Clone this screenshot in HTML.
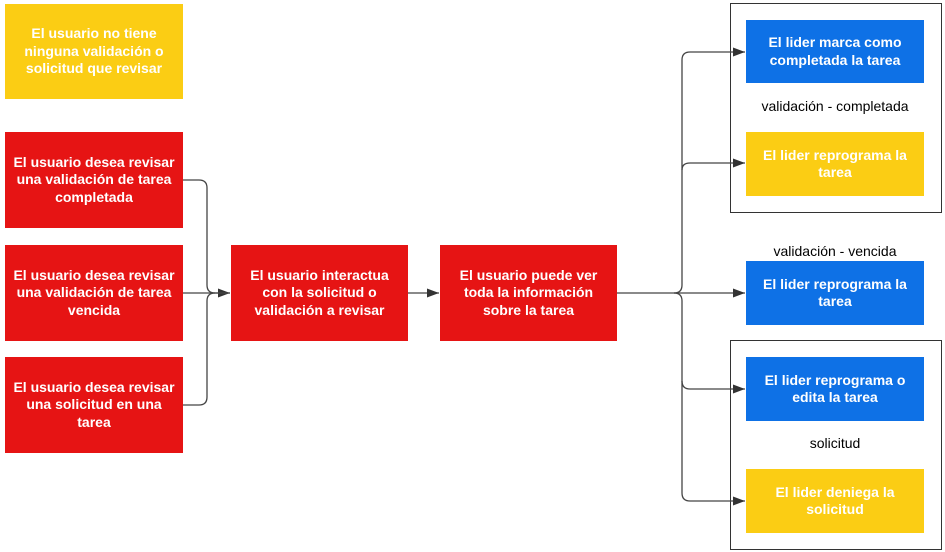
<!DOCTYPE html>
<html><head><meta charset="utf-8"><style>
html,body{margin:0;padding:0;background:#fff;width:945px;height:552px;overflow:hidden;position:relative;font-family:"Liberation Sans",Arial,sans-serif}
.b{position:absolute;display:flex;align-items:center;justify-content:center;text-align:center;color:#fff;font-weight:bold;font-size:14px;line-height:17.5px;box-sizing:border-box;padding:0 5px}
.r{background:#e61414}.y{background:#fbcd14}.bl{background:#0e71e6}
.f{position:absolute;border:1.5px solid #333;box-sizing:border-box}
.l{position:absolute;font-size:14px;color:#000;text-align:center}
svg{position:absolute;left:0;top:0}
</style></head><body>
<div class="f" style="left:730px;top:3px;width:212px;height:210px"></div>
<div class="f" style="left:730px;top:340px;width:212px;height:210px"></div>
<svg width="945" height="552">
<defs><marker id="a" markerWidth="12" markerHeight="9" refX="12" refY="4.5" orient="auto" markerUnits="userSpaceOnUse"><path d="M0,0L12,4.5L0,9z" fill="#333"/></marker></defs>
<g fill="none" stroke="#444" stroke-width="1.3">
<path d="M183,180H199Q207,180 207,188V285Q207,293 215,293H230" marker-end="url(#a)"/>
<path d="M183,293H230"/>
<path d="M183,405H199Q207,405 207,397V301Q207,293 215,293"/>
<path d="M408,293H439" marker-end="url(#a)"/>
<path d="M617,293H745" marker-end="url(#a)"/>
<path d="M674,293Q682,293 682,285V60Q682,52 690,52H745" marker-end="url(#a)"/>
<path d="M682,170Q682,163 690,163H745" marker-end="url(#a)"/>
<path d="M674,293Q682,293 682,301V493Q682,501 690,501H745" marker-end="url(#a)"/>
<path d="M682,381Q682,389 690,389H745" marker-end="url(#a)"/>
</g></svg>
<div class="b y" style="left:5px;top:4px;width:178px;height:95px;padding:0 14px">El usuario no tiene ninguna validación o solicitud que revisar</div>
<div class="b r" style="left:5px;top:132px;width:178px;height:96px">El usuario desea revisar una validación de tarea completada</div>
<div class="b r" style="left:5px;top:245px;width:178px;height:96px">El usuario desea revisar una validación de tarea vencida</div>
<div class="b r" style="left:5px;top:357px;width:178px;height:96px">El usuario desea revisar<br>una solicitud en una<br>tarea</div>
<div class="b r" style="left:231px;top:245px;width:177px;height:96px;padding:0 12px">El usuario interactua con la solicitud o validación a revisar</div>
<div class="b r" style="left:440px;top:245px;width:177px;height:96px;padding:0 14px">El usuario puede ver toda la información sobre la tarea</div>
<div class="b bl" style="left:746px;top:20px;width:178px;height:63px">El lider marca como completada la tarea</div>
<div class="l" style="left:740px;top:98px;width:190px">validación - completada</div>
<div class="b y" style="left:746px;top:132px;width:178px;height:64px;padding:0 12px">El lider reprograma la tarea</div>
<div class="l" style="left:740px;top:243px;width:190px">validación - vencida</div>
<div class="b bl" style="left:746px;top:261px;width:178px;height:64px;padding:0 12px">El lider reprograma la tarea</div>
<div class="b bl" style="left:746px;top:357px;width:178px;height:64px;padding:0 12px">El lider reprograma o edita la tarea</div>
<div class="l" style="left:740px;top:435px;width:190px">solicitud</div>
<div class="b y" style="left:746px;top:469px;width:178px;height:64px;padding:0 20px">El lider deniega la solicitud</div>
</body></html>
